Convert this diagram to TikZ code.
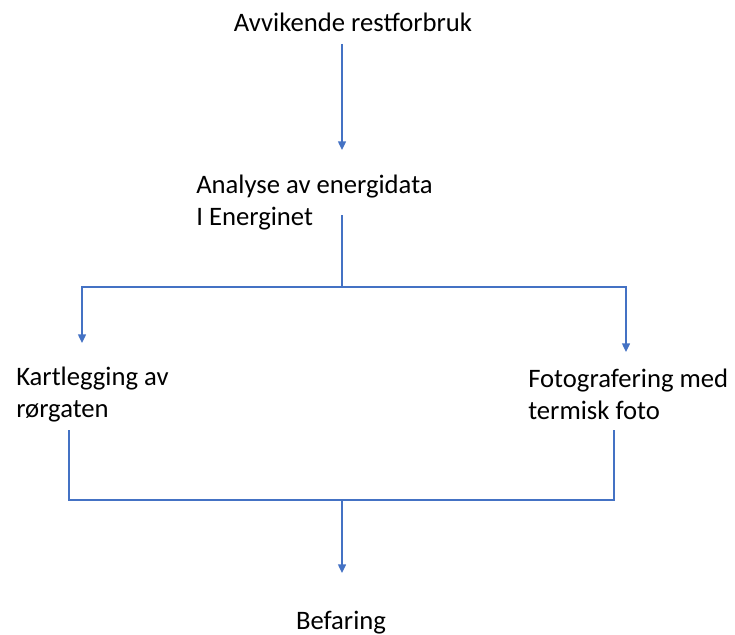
\documentclass[tikz,border=0pt]{standalone}
\usepackage{fontspec}
\setmainfont{Carlito}
\usetikzlibrary{arrows.meta, positioning}

\definecolor{linkblue}{HTML}{4472C4}

\begin{document}
\begin{tikzpicture}[x=0.75pt, y=-0.75pt, >={Triangle[length=6.5pt, width=6pt]}]

    % Frame of the picture
    \useasboundingbox (0,0) rectangle (735,635);
    \tikzset{
        steptext/.style={inner sep=0pt, align=left, font=\fontsize{20}{24}\selectfont},
        link/.style={linkblue, line width=1pt}
    }

    % Steps
    \node[steptext] (avvik) at (353,22) {Avvikende restforbruk};
    \node[steptext, anchor=west] (analyse) at (196,202.5) {Analyse av energidata\\I Energinet};
    \node[steptext, anchor=west] (kart) at (16,394.5) {Kartlegging av\\rørgaten};
    \node[steptext, anchor=west] (foto) at (528,394.5) {Fotografering med\\termisk foto};
    \node[steptext] (befaring) at (341,623) {Befaring};

    % Junction points
    \coordinate (a1) at (342,44);
    \coordinate (a2) at (342,150);
    \coordinate (b1) at (342,215);
    \coordinate (split) at (342,287);
    \coordinate (kartin) at (82,343);
    \coordinate (fotoin) at (626,352);
    \coordinate (kartout) at (69,430);
    \coordinate (fotoout) at (614,430);
    \coordinate (join) at (342,500);
    \coordinate (befin) at (342,573);

    % Connectors
    \draw[link, ->] (a1) -- (a2);
    \draw[link] (b1) -- (split);
    \draw[link, ->] (split) -| (kartin);
    \draw[link, ->] (split) -| (fotoin);
    \draw[link] (kartout) |- (join) -| (fotoout);
    \draw[link, ->] (join) -- (befin);

\end{tikzpicture}
\end{document}
